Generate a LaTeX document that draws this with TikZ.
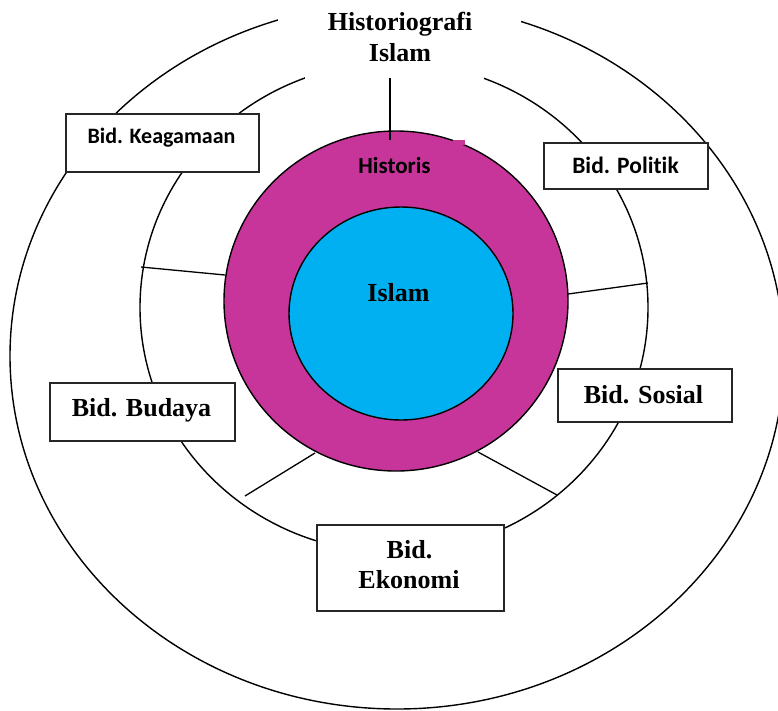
\documentclass[tikz,border=0pt]{standalone}
\usepackage{fontspec}
\setmainfont{Liberation Serif}
\newfontfamily\carlito[Ligatures=NoCommon]{Carlito}
\definecolor{histmag}{HTML}{C8359A}
\definecolor{islblue}{HTML}{00B0F0}
\begin{document}
\begin{tikzpicture}[x=1pt,y=-1pt,
  ring/.style={draw=black, line width=1.4pt},
  spoke/.style={draw=black, line width=1.3pt},
  fieldbox/.style={draw=black!85, line width=1.8pt, fill=white, rectangle, inner sep=0pt, anchor=north west},
  serifbig/.style={font=\bfseries\fontsize{26}{30}\selectfont, inner sep=0pt, anchor=base},
  sanslabel/.style={font=\carlito\bfseries\fontsize{22}{26}\selectfont, inner sep=0pt, anchor=base}]
\useasboundingbox (0,0) rectangle (778,710);
\fill[white] (0,0) rectangle (778,710);
% outer and middle rings
\draw[ring] (397,356) ellipse [x radius=387pt, y radius=353pt];
\draw[ring] (394,307.5) ellipse [x radius=254pt, y radius=245pt];
% gaps in the rings at the top
\fill[white] (278,-5) rectangle (521,26);
\fill[white] (305,55) rectangle (484,84);
% core circles
\draw[ring, fill=histmag] (396,301) ellipse [x radius=172pt, y radius=170pt];
\draw[ring, fill=islblue] (401,313.5) ellipse [x radius=112pt, y radius=106.5pt];
\fill[histmag] (453,140) rectangle (465,144.5);
% spokes
\coordinate (topA) at (390,78);
\coordinate (topB) at (390,140);
\coordinate (lA) at (141,267);
\coordinate (lB) at (225,275);
\coordinate (rA) at (568,294);
\coordinate (rB) at (648,283);
\coordinate (blA) at (245,496);
\coordinate (blB) at (315,453);
\coordinate (brA) at (478,452);
\coordinate (brB) at (557,495);
\draw[spoke] (topA) -- (topB);
\draw[spoke] (lA) -- (lB);
\draw[spoke] (rA) -- (rB);
\draw[spoke] (blA) -- (blB);
\draw[spoke] (brA) -- (brB);
% boxes
\node[fieldbox, minimum width=193pt, minimum height=58pt] (keag) at (65,113) {};
\node[fieldbox, minimum width=164pt, minimum height=46pt] (polit) at (543,142) {};
\node[fieldbox, minimum width=185pt, minimum height=58pt] (budaya) at (49,382) {};
\node[fieldbox, minimum width=174pt, minimum height=53pt] (sosial) at (557,368) {};
\node[fieldbox, minimum width=187pt, minimum height=86pt] (ekonomi) at (316,524) {};
% texts
\node[serifbig] (title1) at (400,30) {Historiografi};
\node[serifbig] (title2) at (400,61.7) {Islam};
\node[sanslabel, font=\carlito\bfseries\fontsize{23}{27}\selectfont] (historis) at (394.5,173) {Historis};
\node[serifbig] (islam) at (398.5,301.7) {Islam};
\node[sanslabel] (keagt) at (161.5,143) {Bid. Keagamaan};
\node[sanslabel, font=\carlito\bfseries\fontsize{23.5}{27}\selectfont] (politt) at (625.5,173) {Bid. Politik};
\node[serifbig] (budayat) at (141.5,416) {Bid. Budaya};
\node[serifbig] (sosialt) at (643.5,403) {Bid. Sosial};
\node[serifbig] (ekon1) at (409.5,558.3) {Bid.};
\node[serifbig] (ekon2) at (409,588.3) {Ekonomi};
\end{tikzpicture}
\end{document}
